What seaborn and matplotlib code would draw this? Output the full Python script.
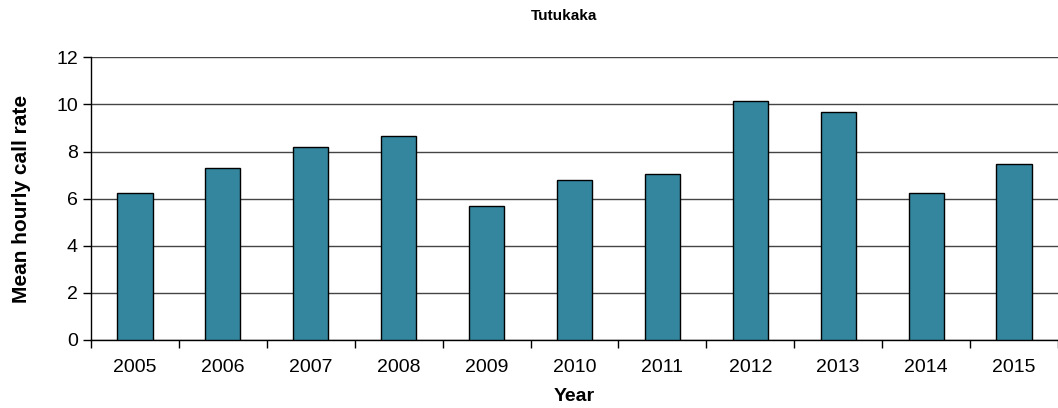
import matplotlib
matplotlib.use('Agg')
import matplotlib.pyplot as plt
import seaborn as sns
import pandas as pd
import numpy as np

# valores
anos = ['2005', '2006', '2007', '2008', '2009', '2010', '2011', '2012', '2013', '2014', '2015']
taxa_media = [6.22, 7.31, 8.18, 8.67, 5.70, 6.78, 7.04, 10.13, 9.66, 6.22, 7.48]

df = pd.DataFrame({'Year': anos, 'Rate': taxa_media})

sns.set_theme(style="white")
plt.rcParams['font.family'] = ['Liberation Sans', 'DejaVu Sans']
plt.rcParams.update({
    'text.color': 'black', 'axes.labelcolor': 'black',
    'xtick.color': 'black', 'ytick.color': 'black',
    'xtick.bottom': True, 'ytick.left': True,
    'xtick.minor.size': 6, 'ytick.major.size': 6,
})

fig = plt.figure(figsize=(10.58, 4.08), dpi=100)
ax = fig.add_axes([91 / 1058, 1 - 340 / 408, 1 - 91 / 1058, (340 - 57.3) / 408])

sns.barplot(data=df, x='Year', y='Rate', color='#33869e', saturation=1,
            edgecolor='black', linewidth=1, width=0.4, ax=ax, zorder=3)

ax.set_ylim(0, 12)
ax.set_xlim(-0.5, len(anos) - 0.5)
ax.set_yticks(range(0, 13, 2))
ax.yaxis.grid(True, color='#444444', linewidth=1)
ax.set_axisbelow(True)

for s in ['top', 'right']:
    ax.spines[s].set_visible(False)
for s in ['left', 'bottom']:
    ax.spines[s].set_color('black')
    ax.spines[s].set_linewidth(1)

ax.set_xticks(np.arange(-0.5, len(anos) - 0.4, 1), minor=True)
ax.tick_params(axis='x', which='major', bottom=True, length=0, labelsize=14, pad=14)
ax.tick_params(axis='x', which='minor', bottom=True, length=6, width=1, direction='out')
ax.tick_params(axis='y', which='major', left=True, length=6, width=1, labelsize=14, direction='out')

ax.set_xlabel('Year', fontsize=14, fontweight='bold', labelpad=8)
ax.set_ylabel('Mean hourly call rate', fontsize=15, fontweight='bold', labelpad=18)

fig.text(564 / 1058, 1 - 16 / 408, 'Tutukaka', ha='center', va='center',
         fontsize=11, fontweight='bold')

fig.savefig('out.png', dpi=100)
